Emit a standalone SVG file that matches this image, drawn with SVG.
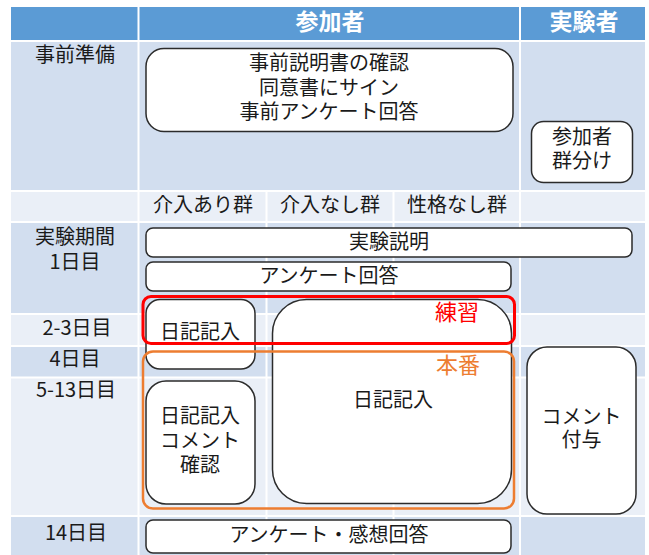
<svg xmlns="http://www.w3.org/2000/svg" width="649" height="555" viewBox="0 0 649 555">
<style>
  .hdr { fill: #5B9BD5; }
  .dk { fill: #D2DEEF; }
  .lt { fill: #EAEFF7; }
  .sep { stroke: #FFFFFF; stroke-width: 2; fill: none; }
  .box { fill: #FFFFFF; stroke: #2B2B2B; stroke-width: 1.5; }
  text { font-family: "Noto Sans CJK JP", "Noto Sans", sans-serif; font-size: 20px; fill: #1A1A1A; text-anchor: middle; }
  .ht { font-size: 23px; font-weight: bold; fill: #FFFFFF; }
  .red { fill: #FF0000; font-size: 22px; }
  .org { fill: #ED7D31; font-size: 22px; }
</style>
<g id="table">
  <rect class="hdr" x="11" y="7" width="634" height="34"/>
  <rect class="dk" x="11" y="41" width="634" height="150"/>
  <rect class="lt" x="11" y="191" width="634" height="31"/>
  <rect class="dk" x="11" y="222" width="634" height="92"/>
  <rect class="lt" x="11" y="314" width="634" height="32"/>
  <rect class="dk" x="11" y="346" width="634" height="31.5"/>
  <rect class="lt" x="11" y="377.5" width="634" height="138.5"/>
  <rect class="dk" x="11" y="516" width="634" height="39"/>
  <path class="sep" d="M11 41H645M11 191H645M11 222H645M11 314H645M11 346H645M11 377.5H645M11 516H645"/>
  <path class="sep" d="M138.5 7V555M520 7V555M266.5 191V555M393.5 191V555"/>
  <text class="ht" x="330" y="30">参加者</text>
  <text class="ht" x="584" y="30">実験者</text>
  <text x="75" y="62">事前準備</text>
  <text x="203" y="212">介入あり群</text>
  <text x="330" y="212">介入なし群</text>
  <text x="457" y="212">性格なし群</text>
  <text x="75" y="244">実験期間</text>
  <text x="75" y="269">1日目</text>
  <text x="77" y="335">2-3日目</text>
  <text x="75" y="366">4日目</text>
  <text x="76" y="397">5-13日目</text>
  <text x="76" y="540">14日目</text>
</g>
<g id="connectors"></g>
<g id="pre">
  <rect class="box" x="146" y="48.5" width="367" height="83" rx="18"/>
  <text x="329" y="70">事前説明書の確認</text>
  <text x="329" y="94.5">同意書にサイン</text>
  <text x="329" y="119">事前アンケート回答</text>
</g>
<g id="grouping">
  <rect class="box" x="531.5" y="121.5" width="101" height="61" rx="12"/>
  <text x="582" y="144">参加者</text>
  <text x="582" y="168">群分け</text>
</g>
<g id="explain">
  <rect class="box" x="146" y="228" width="486" height="29" rx="7"/>
  <text x="389" y="249">実験説明</text>
</g>
<g id="survey1">
  <rect class="box" x="146" y="262" width="365" height="29" rx="7"/>
  <text x="329" y="283">アンケート回答</text>
</g>
<g id="diary-a1">
  <rect class="box" x="146" y="299.5" width="109" height="69.5" rx="14"/>
  <text x="200" y="339">日記記入</text>
</g>
<g id="diary-a2">
  <rect class="box" x="146" y="381" width="109" height="123" rx="20"/>
  <text x="200" y="423">日記記入</text>
  <text x="200" y="447.5">コメント</text>
  <text x="200" y="472">確認</text>
</g>
<g id="diary-b">
  <rect class="box" x="272.5" y="299.5" width="239" height="204" rx="34"/>
  <text x="393" y="407">日記記入</text>
</g>
<g id="comment">
  <rect class="box" x="527" y="347" width="109" height="167" rx="20"/>
  <text x="581.5" y="423.5">コメント</text>
  <text x="581.5" y="447">付与</text>
</g>
<g id="survey2">
  <rect class="box" x="146" y="520" width="365" height="33" rx="7"/>
  <text x="329" y="542">アンケート・感想回答</text>
</g>
<g id="practice">
  <rect x="143" y="296.5" width="371.5" height="47" rx="8" fill="none" stroke="#FF0000" stroke-width="3"/>
  <text class="red" x="457" y="320">練習</text>
</g>
<g id="main">
  <rect x="143" y="351.5" width="371" height="157" rx="10" fill="none" stroke="#ED7D31" stroke-width="2.5"/>
  <text class="org" x="458" y="373">本番</text>
</g>
</svg>
